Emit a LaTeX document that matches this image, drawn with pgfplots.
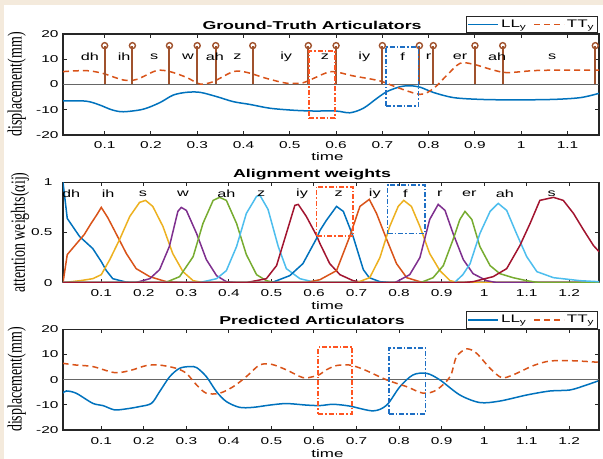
\documentclass[border=0pt]{standalone}
\usepackage{fontspec}
\setmainfont{Liberation Serif}
\newfontfamily\sfs[FakeStretch=1.55]{Liberation Sans}
\usepackage{pgfplots}
\pgfplotsset{compat=1.18}
\definecolor{cream}{HTML}{F4EADC}
\definecolor{cA}{HTML}{0072BD}
\definecolor{cB}{HTML}{D95319}
\definecolor{cC}{HTML}{EDB120}
\definecolor{cD}{HTML}{7E2F8E}
\definecolor{cE}{HTML}{77AC30}
\definecolor{cF}{HTML}{4DBEEE}
\definecolor{cG}{HTML}{A2142F}
\definecolor{stem}{HTML}{A0522D}
\definecolor{obox}{HTML}{FF5522}
\definecolor{bbox}{HTML}{1E6FC4}

\tikzset{ph/.style={font=\sfs\fontsize{10.5}{12}\selectfont}}
\pgfplotsset{
  every axis title shift=0pt,
  panel/.style={scale only axis, width=536bp, xmin=0.01,
    axis line style={black!85, line width=1.2bp},
    tick style={black!85, line width=1bp},
    major tick length=4bp, tick align=inside,
    xtick pos=both, ytick pos=both,
    xticklabel pos=lower, yticklabel pos=left,
    /pgf/number format/assume math mode=true,
    tick label style={font=\sfs\fontsize{10}{12}\selectfont},
    xticklabel style={anchor=base, yshift=-14bp},
    yticklabel style={anchor=east, xshift=-1bp},
    title style={font=\sfs\bfseries\fontsize{11.5}{13}\selectfont,
      at={(axis description cs:0.4646,1)}, anchor=base, yshift=5bp},
    xlabel style={font=\sfs\fontsize{11}{13}\selectfont,
      at={(axis description cs:0.4935,0)}, anchor=base, yshift=-26bp},
    ylabel style={font=\rmfamily\fontsize{14}{15}\selectfont,
      at={(axis description cs:-0.0864,0.5)}, anchor=center, yscale=1.45},
    legend style={font=\sfs\fontsize{11}{13}\selectfont, draw=black!85,
      line width=0.8bp, at={(1,1)}, anchor=south east, xshift=-1bp, yshift=1bp,
      legend columns=2, inner sep=1.5bp,
      /tikz/every even column/.append style={column sep=5bp}},
    legend image code/.code={\draw[##1, line width=1.5bp] (0bp,0bp) -- (30bp,0bp);},
  },
  ll/.style={cA, line width=1.5bp, smooth, tension=0.5},
  tt/.style={cB, line width=1.5bp, smooth, tension=0.5, dash pattern=on 6bp off 4bp},
  att/.style={line width=1.5bp, forget plot},
  dbox/.style={line width=1.8bp, dash pattern=on 5bp off 2bp on 1.5bp off 2bp, forget plot},
  zline/.style={black!60, line width=1.3bp, forget plot},
}

\begin{document}
\begin{tikzpicture}
\useasboundingbox (0,0) rectangle (603bp,459bp);
\fill[cream] (0,0) rectangle (603bp,459bp);
\fill[white] (4bp,0) rectangle (603bp,454bp);

% ---- panel 1: ground truth
\begin{axis}[panel, at={(63bp,324bp)}, anchor=south west, height=101bp,
  xmax=1.168, ymin=-20, ymax=20,
  xtick={0.1,0.2,0.3,0.4,0.5,0.6,0.7,0.8,0.9,1,1.1},
  ytick={-20,-10,0,10,20},
  title={Ground-Truth Articulators}, xlabel={time}, ylabel={displacement(mm)}]
\addplot[zline] coordinates {(0.01,0)(1.168,0)};
\addplot[ll] coordinates {
 (0.01,-6.5)(0.06,-6.6)(0.089,-8.1)(0.115,-10.0)(0.14,-10.8)(0.183,-9.8)
 (0.219,-7.2)(0.248,-4.2)(0.277,-3.1)(0.306,-3.1)(0.342,-4.8)(0.378,-6.8)
 (0.414,-7.9)(0.457,-9.4)(0.508,-10.2)(0.55,-10.5)(0.6,-10.5)(0.63,-11.2)
 (0.659,-9.4)(0.688,-5.5)(0.71,-2.8)(0.738,-0.9)(0.76,-0.5)(0.782,-1.1)
 (0.811,-3.2)(0.854,-5.2)(0.912,-5.9)(0.984,-6.1)(1.07,-5.9)(1.128,-5.2)(1.168,-3.5)};
\addlegendentry{LL\textsubscript{y}}
\addplot[tt] coordinates {
 (0.01,5.1)(0.06,5.5)(0.096,4.4)(0.14,1.8)(0.169,2.0)(0.212,5.5)(0.241,5.1)
 (0.277,2.8)(0.306,0.2)(0.334,1.1)(0.378,5.1)(0.407,4.8)(0.45,2.4)(0.494,0.5)
 (0.529,0.7)(0.551,2.4)(0.59,5.1)(0.637,3.4)(0.695,1.4)(0.731,-1.1)(0.782,-3.9)
 (0.811,-1.5)(0.84,3.8)(0.868,8.4)(0.897,8.0)(0.94,5.7)(0.97,4.7)(1.027,5.5)
 (1.085,5.7)(1.168,5.7)};
\addlegendentry{TT\textsubscript{y}}
\addplot[ycomb, stem, line width=2bp, mark=o, mark size=3bp,
  mark options={fill=white, line width=1.4bp}, forget plot] coordinates {
 (0.1,15.4)(0.16,15.4)(0.24,15.4)(0.30,15.4)(0.34,15.4)(0.42,15.4)(0.54,15.4)
 (0.60,15.4)(0.70,15.4)(0.78,15.4)(0.81,15.4)(0.90,15.4)(0.96,15.4)(1.16,15.4)};
\addplot[dbox, obox] coordinates {(0.542,-13.4)(0.597,-13.4)(0.597,13.4)(0.542,13.4)(0.542,-13.4)};
\addplot[dbox, bbox] coordinates {(0.708,-8.5)(0.778,-8.5)(0.778,15)(0.708,15)(0.708,-8.5)};
\foreach \t/\s in {0.068/dh,0.142/ih,0.207/s,0.28/w,0.338/ah,0.387/z,0.492/iy,
  0.576/z,0.661/iy,0.744/f,0.80/r,0.868/er,0.948/ah,1.067/s}
  {\edef\tmp{\noexpand\node[ph] at (axis cs:\t,11) {\s};}\tmp}
\end{axis}

% ---- panel 2: alignment weights
\begin{axis}[panel, at={(63bp,176.3bp)}, anchor=south west, height=100.4bp,
  xmax=1.27, ymin=0, ymax=1,
  xtick={0.1,0.2,0.3,0.4,0.5,0.6,0.7,0.8,0.9,1,1.1,1.2},
  ytick={0,0.5,1}, yticklabel style={xshift=-6bp},
  ylabel style={at={(axis description cs:-0.080,0.5)}},
  xlabel style={yshift=-1.3bp},
  title={Alignment weights}, xlabel={time}, ylabel={attention weights(αij)}]
\addplot[att, cA] coordinates {(0.01,1.0)(0.02,0.64)(0.049,0.46)(0.08,0.34)(0.1,0.21)(0.112,0.12)(0.127,0.04)(0.159,0.005)(0.2,0)(1.27,0)};
\addplot[att, cB] coordinates {(0.01,0)(0.02,0.28)(0.04,0.38)(0.06,0.48)(0.076,0.59)(0.09,0.68)(0.1,0.75)(0.115,0.65)(0.131,0.52)(0.159,0.29)(0.182,0.14)(0.214,0.06)(0.253,0.01)(0.3,0)(1.27,0)};
\addplot[att, cC] coordinates {(0.01,0)(0.05,0.02)(0.08,0.04)(0.1,0.08)(0.12,0.23)(0.143,0.43)(0.167,0.66)(0.19,0.80)(0.204,0.82)(0.221,0.76)(0.245,0.56)(0.268,0.29)(0.292,0.11)(0.316,0.02)(0.34,0)(1.27,0)};
\addplot[att, cD] coordinates {(0.01,0)(0.18,0)(0.214,0.04)(0.237,0.13)(0.26,0.36)(0.28,0.71)(0.288,0.75)(0.3,0.72)(0.324,0.49)(0.347,0.23)(0.371,0.07)(0.394,0.01)(0.42,0)(1.27,0)};
\addplot[att, cE] coordinates {(0.01,0)(0.25,0)(0.284,0.06)(0.316,0.26)(0.339,0.59)(0.363,0.82)(0.378,0.85)(0.394,0.82)(0.418,0.59)(0.441,0.28)(0.465,0.08)(0.488,0.02)(0.51,0)(1.27,0)};
\addplot[att, cF] coordinates {(0.01,0)(0.33,0)(0.371,0.04)(0.394,0.12)(0.418,0.36)(0.441,0.69)(0.465,0.86)(0.473,0.87)(0.492,0.73)(0.516,0.36)(0.535,0.14)(0.567,0.04)(0.606,0)(1.27,0)};
\addplot[att, cG] coordinates {(0.01,0)(0.44,0)(0.488,0.04)(0.512,0.17)(0.535,0.49)(0.555,0.77)(0.563,0.78)(0.582,0.66)(0.606,0.47)(0.614,0.39)(0.637,0.19)(0.661,0.08)(0.692,0.02)(0.72,0)(1.27,0)};
\addplot[att, cA] coordinates {(0.01,0)(0.5,0)(0.543,0.07)(0.574,0.19)(0.606,0.44)(0.614,0.52)(0.629,0.62)(0.653,0.76)(0.669,0.71)(0.692,0.46)(0.716,0.13)(0.73,0.05)(0.755,0.01)(0.78,0)(1.27,0)};
\addplot[att, cB] coordinates {(0.01,0)(0.58,0)(0.614,0.03)(0.653,0.12)(0.684,0.46)(0.708,0.76)(0.73,0.83)(0.747,0.69)(0.771,0.43)(0.794,0.19)(0.818,0.05)(0.849,0.01)(0.87,0)(1.27,0)};
\addplot[att, cC] coordinates {(0.01,0)(0.7,0)(0.731,0.05)(0.755,0.25)(0.778,0.56)(0.798,0.76)(0.811,0.82)(0.829,0.76)(0.849,0.56)(0.872,0.29)(0.896,0.12)(0.92,0.02)(0.94,0)(1.27,0)};
\addplot[att, cD] coordinates {(0.01,0)(0.79,0)(0.825,0.08)(0.849,0.25)(0.872,0.63)(0.892,0.78)(0.908,0.72)(0.927,0.49)(0.951,0.23)(0.974,0.09)(1.006,0.02)(1.03,0)(1.27,0)};
\addplot[att, cE] coordinates {(0.01,0)(0.85,0)(0.88,0.05)(0.904,0.17)(0.927,0.43)(0.943,0.63)(0.955,0.71)(0.971,0.63)(0.99,0.36)(1.014,0.17)(1.037,0.09)(1.068,0.05)(1.1,0.02)(1.13,0)(1.27,0)};
\addplot[att, cF] coordinates {(0.01,0)(0.93,0)(0.95,0.08)(0.967,0.19)(0.99,0.49)(1.014,0.71)(1.033,0.79)(1.053,0.72)(1.076,0.49)(1.1,0.26)(1.124,0.11)(1.163,0.05)(1.226,0.02)(1.27,0.01)};
\addplot[att, cG] coordinates {(0.01,0)(0.95,0)(0.974,0.01)(1.021,0.06)(1.053,0.14)(1.084,0.37)(1.108,0.59)(1.131,0.82)(1.163,0.85)(1.186,0.82)(1.21,0.69)(1.233,0.53)(1.257,0.37)(1.27,0.31)};
\addplot[dbox, obox] coordinates {(0.606,0.465)(0.692,0.465)(0.692,0.955)(0.606,0.955)(0.606,0.465)};
\addplot[dbox, bbox] coordinates {(0.773,0.49)(0.861,0.49)(0.861,0.97)(0.773,0.97)(0.773,0.49)};
\foreach \t/\s in {0.029/dh,0.116/ih,0.198/s,0.292/w,0.394/ah,0.476/z,0.572/iy,
  0.658/z,0.743/iy,0.815/f,0.896/r,0.965/er,1.049/ah,1.159/s}
  {\edef\tmp{\noexpand\node[ph] at (axis cs:\t,0.89) {\s};}\tmp}
\end{axis}

% ---- panel 3: predicted
\begin{axis}[panel, at={(63bp,29bp)}, anchor=south west, height=100.7bp,
  xmax=1.27, ymin=-20, ymax=20,
  xtick={0.1,0.2,0.3,0.4,0.5,0.6,0.7,0.8,0.9,1,1.1,1.2},
  ytick={-20,-10,0,10,20}, xlabel style={yshift=-1bp},
  title={Predicted Articulators}, xlabel={time}, ylabel={displacement(mm)}]
\addplot[zline] coordinates {(0.01,0)(1.27,0)};
\addplot[ll] coordinates {
 (0.009,-5.4)(0.018,-4.5)(0.041,-5.4)(0.08,-9.4)(0.104,-10.3)(0.131,-12.0)
 (0.159,-11.6)(0.19,-10.7)(0.218,-9.4)(0.237,-4.8)(0.261,1.2)(0.284,4.5)
 (0.308,5.2)(0.324,4.8)(0.347,1.2)(0.371,-4.8)(0.394,-8.7)(0.425,-11.0)
 (0.457,-11.0)(0.496,-10.1)(0.535,-9.5)(0.582,-10.1)(0.614,-10.3)(0.645,-9.8)
 (0.684,-10.5)(0.739,-12.4)(0.771,-10.1)(0.802,-2.8)(0.833,1.9)(0.865,2.5)
 (0.896,-0.1)(0.943,-6.1)(0.99,-9.1)(1.037,-8.5)(1.1,-6.1)(1.155,-4.5)
 (1.202,-4.1)(1.241,-2.1)(1.268,-0.5)};
\addlegendentry{LL\textsubscript{y}}
\addplot[tt] coordinates {
 (0.009,6.5)(0.041,5.8)(0.08,5.2)(0.131,2.8)(0.167,3.6)(0.206,5.6)(0.237,5.8)
 (0.276,4.5)(0.3,2.5)(0.324,-2.1)(0.347,-5.4)(0.378,-5.4)(0.41,-2.8)(0.441,1.2)
 (0.472,5.8)(0.5,6.1)(0.535,3.9)(0.574,0.8)(0.598,1.2)(0.614,2.1)(0.629,3.9)
 (0.653,5.6)(0.684,5.8)(0.716,4.1)(0.771,-0.1)(0.818,-2.8)(0.857,-5.4)
 (0.888,-4.1)(0.92,1.2)(0.935,9.1)(0.959,12.2)(0.982,10.5)(1.014,4.5)
 (1.041,0.8)(1.068,1.9)(1.116,5.6)(1.155,7.4)(1.21,7.5)(1.268,6.9)};
\addlegendentry{TT\textsubscript{y}}
\addplot[dbox, obox] coordinates {(0.61,-13.6)(0.69,-13.6)(0.69,12.9)(0.61,12.9)(0.61,-13.6)};
\addplot[dbox, bbox] coordinates {(0.776,-13.6)(0.862,-13.6)(0.862,12.5)(0.776,12.5)(0.776,-13.6)};
\end{axis}
\end{tikzpicture}
\end{document}
